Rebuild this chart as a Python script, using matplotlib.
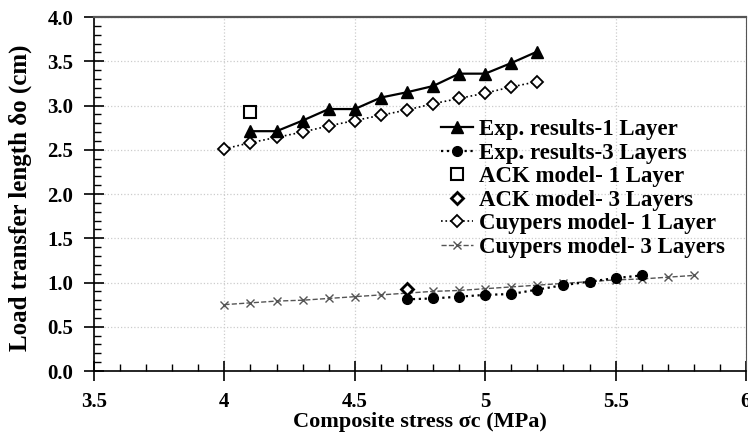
import matplotlib
matplotlib.use("Agg")
import matplotlib.pyplot as plt
from matplotlib.ticker import MultipleLocator, FormatStrFormatter

plt.rcParams["font.family"] = ["Liberation Serif", "DejaVu Serif"]
plt.rcParams["font.weight"] = "bold"

# data
exp1_x = [4.1, 4.2, 4.3, 4.4, 4.5, 4.6, 4.7, 4.8, 4.9, 5.0, 5.1, 5.2]
exp1_y = [2.71, 2.71, 2.83, 2.96, 2.96, 3.09, 3.15, 3.22, 3.36, 3.36, 3.48, 3.61]

exp3_x = [4.7, 4.8, 4.9, 5.0, 5.1, 5.2, 5.3, 5.4, 5.5, 5.6]
exp3_y = [0.81, 0.82, 0.84, 0.86, 0.87, 0.92, 0.97, 1.01, 1.05, 1.08]

ack1_x = [4.1]
ack1_y = [2.93]
ack3_x = [4.7]
ack3_y = [0.93]

cuy1_x = [4.0, 4.1, 4.2, 4.3, 4.4, 4.5, 4.6, 4.7, 4.8, 4.9, 5.0, 5.1, 5.2]
cuy1_y = [2.51, 2.58, 2.64, 2.70, 2.77, 2.83, 2.89, 2.95, 3.02, 3.08, 3.14, 3.21, 3.27]

cuy3_x = [4.0, 4.1, 4.2, 4.3, 4.4, 4.5, 4.6, 4.7, 4.8, 4.9, 5.0,
          5.1, 5.2, 5.3, 5.4, 5.5, 5.6, 5.7, 5.8]
cuy3_y = [0.75, 0.77, 0.79, 0.80, 0.82, 0.84, 0.86, 0.88, 0.90, 0.91, 0.93,
          0.95, 0.97, 0.99, 1.01, 1.03, 1.04, 1.06, 1.08]

xtick_vals = [3.5, 4, 4.5, 5, 5.5, 6]
xtick_labels = ["3.5", "4", "4.5", "5", "5.5", "6"]

fig = plt.figure(figsize=(7.48, 4.32), dpi=100)
ax = fig.add_axes([0.1257, 0.1412, 0.8716, 0.8194])

ax.plot(cuy3_x, cuy3_y, linestyle="--", color="#555555", lw=1.0,
        marker="x", ms=6, mew=1.0, label="Cuypers model- 3 Layers", zorder=2)
ax.plot(cuy1_x, cuy1_y, linestyle=":", color="black", lw=1.2,
        marker="D", ms=6, mfc="white", mec="black", mew=1.3,
        label="Cuypers model- 1 Layer", zorder=3)
ax.plot(exp1_x, exp1_y, linestyle="-", color="black", lw=1.6,
        marker="^", ms=8, label="Exp. results-1 Layer", zorder=4)
ax.plot(exp3_x, exp3_y, linestyle=":", color="black", lw=1.6,
        marker="o", ms=7, label="Exp. results-3 Layers", zorder=4)
ax.plot(ack1_x, ack1_y, linestyle="none", marker="s", ms=8,
        mfc="white", mec="black", mew=1.5, label="ACK model- 1 Layer", zorder=5)
ax.plot(ack3_x, ack3_y, linestyle="none", marker="D", ms=6,
        mfc="white", mec="black", mew=2.0, label="ACK model- 3 Layers", zorder=5)

ax.set_xlim(3.5, 6)
ax.set_ylim(0, 4)
ax.xaxis.set_minor_locator(MultipleLocator(0.1))
ax.yaxis.set_major_locator(MultipleLocator(0.5))
ax.yaxis.set_minor_locator(MultipleLocator(0.1))
ax.set_xticks(xtick_vals)
ax.set_xticklabels(xtick_labels)
ax.yaxis.set_major_formatter(FormatStrFormatter("%.1f"))

ax.tick_params(which="major", direction="inout", length=14, width=1.2,
               labelsize=15)
ax.tick_params(which="minor", direction="in", length=5, width=1.0)
ax.tick_params(axis="x", which="major", pad=8)
ax.tick_params(axis="y", which="major", pad=8)
for lab in ax.get_xticklabels() + ax.get_yticklabels():
    lab.set_fontweight("bold")

ax.grid(True, which="major", linestyle=":", color="#cccccc", lw=0.9)
ax.set_axisbelow(True)
for s in ["top", "right"]:
    ax.spines[s].set_color("#555555")
ax.spines["top"].set_linewidth(1.6)
ax.spines["right"].set_linewidth(0.8)
ax.spines["left"].set_linewidth(1.2)
ax.spines["bottom"].set_linewidth(1.2)

ax.set_xlabel("Composite stress σc (MPa)", fontsize=16, fontweight="bold",
              labelpad=0)
ax.set_ylabel("Load transfer length δo (cm)", fontsize=18, fontweight="bold")
ax.yaxis.set_label_coords(-0.095, 0.49)

handles, labels = ax.get_legend_handles_labels()
order = [2, 3, 4, 5, 1, 0]
leg = ax.legend([handles[i] for i in order], [labels[i] for i in order],
                loc="upper left", bbox_to_anchor=(441 / 748, 1 - 119 / 432),
                bbox_transform=fig.transFigure,
                frameon=False, fontsize=16.5, handlelength=1.4,
                handletextpad=0.25, labelspacing=0.11, borderpad=0,
                borderaxespad=0)
for t in leg.get_texts():
    t.set_fontweight("bold")

fig.savefig("out.png", dpi=100)
